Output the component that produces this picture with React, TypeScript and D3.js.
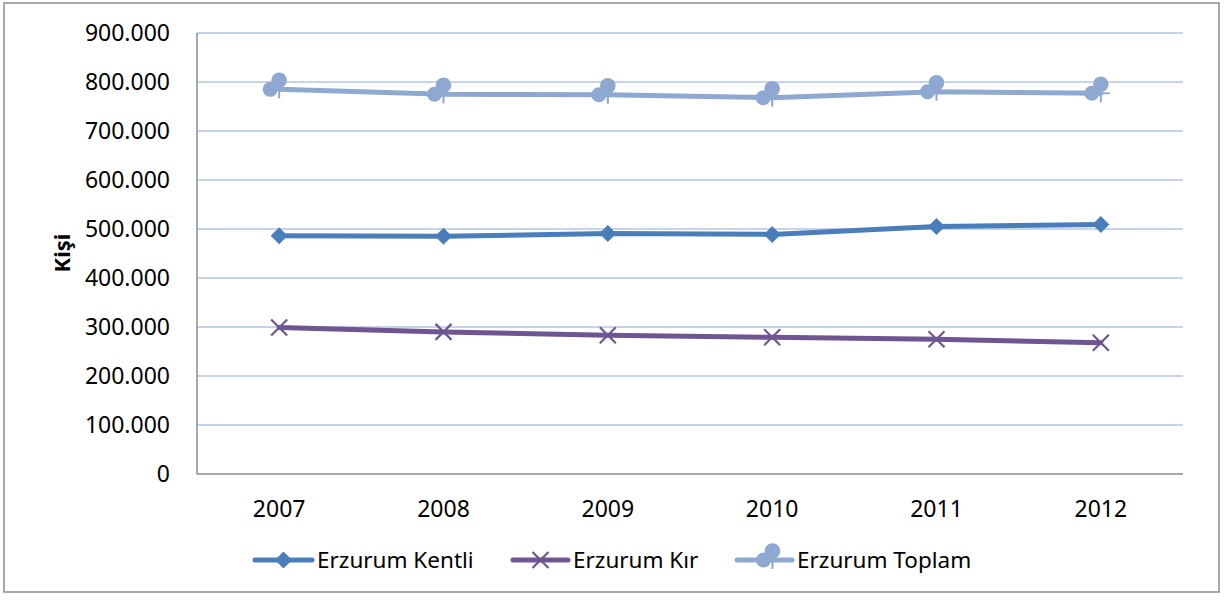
import React from "react";
import * as d3 from "d3";

const years = ["2007", "2008", "2009", "2010", "2011", "2012"];
const kentli = [486000, 485000, 491000, 489000, 505000, 509000];
const kir = [299000, 290000, 283000, 279000, 275000, 268000];
const toplam = [785000, 775000, 774000, 768000, 780000, 777000];
const yTicks = [0, 100000, 200000, 300000, 400000, 500000, 600000, 700000, 800000, 900000];
const seriesNames = ["Erzurum Kentli", "Erzurum Kır", "Erzurum Toplam"];

const W = 1231, H = 601;
const plot = { left: 197, right: 1183, top: 33, bottom: 474 };
const FONT = "'Noto Sans', 'Open Sans', sans-serif";
const C_KENT = "#4a7ebb";
const C_KIR = "#6f5591";
const C_TOP = "#8ea8d2";
const C_GRID = "#8eaad8";
const C_AXIS = "#8c8c8c";

const fmt = (v: number) => (v === 0 ? "0" : d3.format(",")(v).replace(/,/g, "."));

function Diamond({ x, y }: { x: number; y: number }) {
  const r = 8.5;
  return <path d={`M${x},${y - r}L${x + r},${y}L${x},${y + r}L${x - r},${y}Z`} fill={C_KENT} />;
}
function Cross({ x, y }: { x: number; y: number }) {
  const r = 8;
  return (
    <path d={`M${x - r},${y - r}L${x + r},${y + r}M${x - r},${y + r}L${x + r},${y - r}`} stroke={C_KIR} strokeWidth={2.2} fill="none" />
  );
}
function Blob({ x, y }: { x: number; y: number }) {
  return (
    <g fill={C_TOP} stroke={C_TOP}>
      <circle cx={x - 9} cy={y} r={7.5} stroke="none" />
      <circle cx={x} cy={y - 9} r={7.8} stroke="none" />
      <path d={`M${x},${y}L${x + 9},${y}M${x},${y}L${x},${y + 9}`} strokeWidth={2} fill="none" />
    </g>
  );
}

export default function App() {
  const x = d3.scaleBand<string>().domain(years).range([plot.left, plot.right]);
  const y = d3.scaleLinear().domain([0, 900000]).range([plot.bottom, plot.top]);
  const cx = (yr: string) => (x(yr) as number) + x.bandwidth() / 2;
  const line = d3
    .line<number>()
    .x((_, i) => cx(years[i]))
    .y((d) => y(d));

  const legendY = 560;
  const legend = [
    { x0: 255, x1: 312, tx: 317, name: seriesNames[0], color: C_KENT, m: "d" },
    { x0: 513, x1: 568, tx: 573, name: seriesNames[1], color: C_KIR, m: "x" },
    { x0: 737, x1: 792, tx: 797, name: seriesNames[2], color: C_TOP, m: "o" },
  ];

  return (
    <svg width={W} height={H} style={{ position: "absolute", left: 0, top: 0, background: "#fff" }}>
      <rect x={4} y={3} width={1215} height={589} fill="#fff" stroke={C_AXIS} strokeWidth={1.5} />
      {yTicks.map((t) => (
        <g key={t}>
          {t > 0 && <line x1={plot.left} x2={plot.right} y1={y(t)} y2={y(t)} stroke={C_GRID} strokeWidth={1} />}
          <text x={170} y={y(t)} dy="0.35em" textAnchor="end" fontFamily={FONT} fontSize={23} fill="#000">
            {fmt(t)}
          </text>
        </g>
      ))}
      <line x1={plot.left} x2={plot.left} y1={plot.top} y2={plot.bottom} stroke={C_AXIS} strokeWidth={1.5} />
      <line x1={plot.left} x2={plot.right} y1={plot.bottom} y2={plot.bottom} stroke={C_AXIS} strokeWidth={1.5} />
      {years.map((yr) => (
        <text key={yr} x={cx(yr)} y={509} dy="0.35em" textAnchor="middle" fontFamily={FONT} fontSize={23} fill="#000">
          {yr}
        </text>
      ))}
      <text transform={`translate(62,253) rotate(-90)`} textAnchor="middle" dy="0.35em" fontFamily={FONT} fontSize={22} fontWeight="bold" fill="#000">
        Kişi
      </text>

      <path d={line(kir) as string} fill="none" stroke={C_KIR} strokeWidth={5} strokeLinejoin="round" strokeLinecap="round" />
      {kir.map((v, i) => <Cross key={i} x={cx(years[i])} y={y(v)} />)}
      <path d={line(kentli) as string} fill="none" stroke={C_KENT} strokeWidth={5} strokeLinejoin="round" strokeLinecap="round" />
      {kentli.map((v, i) => <Diamond key={i} x={cx(years[i])} y={y(v)} />)}
      <path d={line(toplam) as string} fill="none" stroke={C_TOP} strokeWidth={5} strokeLinejoin="round" strokeLinecap="round" />
      {toplam.map((v, i) => <Blob key={i} x={cx(years[i])} y={y(v)} />)}

      {legend.map((l) => {
        const mx = (l.x0 + l.x1) / 2;
        return (
          <g key={l.name}>
            <line x1={l.x0} x2={l.x1} y1={legendY} y2={legendY} stroke={l.color} strokeWidth={5} strokeLinecap="round" />
            {l.m === "d" && <Diamond x={mx} y={legendY} />}
            {l.m === "x" && <Cross x={mx} y={legendY} />}
            {l.m === "o" && <Blob x={mx + 8} y={legendY} />}
            <text x={l.tx} y={legendY} dy="0.35em" fontFamily={FONT} fontSize={22.5} fill="#000">
              {l.name}
            </text>
          </g>
        );
      })}
    </svg>
  );
}
